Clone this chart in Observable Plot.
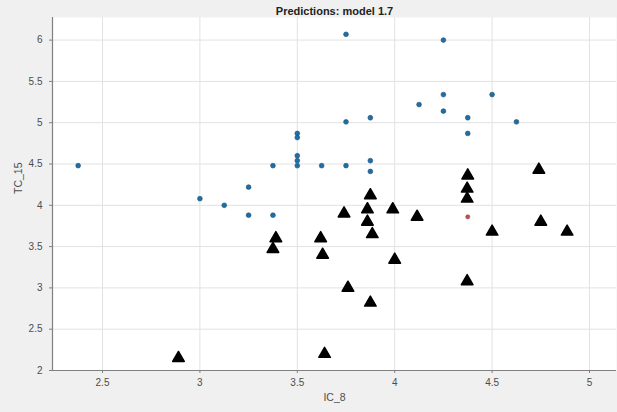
<!DOCTYPE html>
<html>
<head>
<meta charset="utf-8">
<script src="https://cdn.jsdelivr.net/npm/d3@7"></script>
<script src="https://cdn.jsdelivr.net/npm/@observablehq/plot@0.6"></script>
<style>
  html, body { margin: 0; padding: 0; background: #f0f0f0; }
  #chart svg { display: block; }
</style>
</head>
<body>
<div id="chart"></div>
<script>
// Observed data (blue dots)
const obsX = [2.375, 3.0, 3.125, 3.25, 3.25, 3.375, 3.375, 3.5, 3.5, 3.5, 3.5, 3.5, 3.625, 3.75, 3.75, 3.75, 3.875, 3.875, 3.875, 4.125, 4.25, 4.25, 4.25, 4.375, 4.375, 4.5, 4.625];
const obsY = [4.48, 4.08, 4.0, 4.22, 3.88, 4.48, 3.88, 4.87, 4.82, 4.6, 4.54, 4.48, 4.48, 6.07, 5.01, 4.48, 5.06, 4.54, 4.41, 5.22, 6.0, 5.34, 5.14, 5.06, 4.87, 5.34, 5.01];
// Highlighted point (red)
const redX = [4.375];
const redY = [3.86];
// Predictions (black triangles)
const predX = [2.89, 3.375, 3.39, 3.62, 3.63, 3.64, 3.74, 3.76, 3.86, 3.86, 3.875, 3.885, 3.875, 3.99, 4.0, 4.115, 4.375, 4.372, 4.372, 4.372, 4.5, 4.74, 4.75, 4.885];
const predY = [2.15, 3.47, 3.6, 3.6, 3.4, 2.2, 3.9, 3.0, 3.95, 3.8, 4.12, 3.65, 2.82, 3.95, 3.34, 3.86, 4.36, 4.2, 4.08, 3.08, 3.68, 4.43, 3.8, 3.68];

const xTicks = [2.5, 3, 3.5, 4, 4.5, 5];
const yTicks = [2, 2.5, 3, 3.5, 4, 4.5, 5, 5.5, 6];
const title = "Predictions: model 1.7";
const xLabel = "IC_8";
const yLabel = "TC_15";

const obs = obsX.map((x, i) => ({x, y: obsY[i]}));
const red = redX.map((x, i) => ({x, y: redY[i]}));
const pred = predX.map((x, i) => ({x, y: predY[i]}));

const xDomain = [2.2433, 5.1386];
const yDomain = [2, 6.2736];

const chart = Plot.plot({
  width: 617,
  height: 412,
  marginLeft: 52,
  marginRight: 1,
  marginTop: 17,
  marginBottom: 42,
  style: {background: "#f0f0f0", fontFamily: "'Liberation Sans', Arial, sans-serif", fontSize: "10px", color: "#4d4d4d"},
  x: {domain: xDomain, ticks: xTicks, label: null},
  y: {domain: yDomain, ticks: yTicks, label: null},
  marks: [
    Plot.frame({fill: "white", stroke: null}),
    Plot.gridX(xTicks, {stroke: "#e2e2e2", strokeOpacity: 1}),
    Plot.gridY(yTicks, {stroke: "#e2e2e2", strokeOpacity: 1}),
    Plot.ruleX([xDomain[0]], {stroke: "#808080", strokeWidth: 1.2}),
    Plot.ruleY([yDomain[0]], {stroke: "#808080", strokeWidth: 1.2}),
    Plot.axisX(xTicks, {tickSize: 3, tickPadding: 5, stroke: "#808080", fill: "#4d4d4d", tickFormat: d => String(d)}),
    Plot.axisY(yTicks, {tickSize: 3, tickPadding: 7, stroke: "#808080", fill: "#4d4d4d", tickFormat: d => String(d)}),
    Plot.dot(obs, {x: "x", y: "y", r: 2.4, fill: "#1f6fa6", stroke: "#1d4f73", strokeWidth: 0.6}),
    Plot.dot(red, {x: "x", y: "y", r: 2.1, fill: "#c0504d", stroke: "#8a3a36", strokeWidth: 0.5}),
    Plot.dot(pred, {x: "x", y: "y", symbol: "triangle", r: 4.3, fill: "black", stroke: "black", strokeWidth: 1.5, strokeLinejoin: "round"}),
    Plot.text([title], {frameAnchor: "top", dy: -10, fontWeight: "bold", fontSize: 11, fill: "#222"}),
    Plot.text([xLabel], {frameAnchor: "bottom", dy: 30, fontSize: 10.5, fill: "#4d4d4d"}),
    Plot.text([yLabel], {frameAnchor: "left", dx: -34, rotate: -90, fontSize: 10.5, fill: "#4d4d4d"})
  ]
});
document.getElementById("chart").appendChild(chart);
</script>
</body>
</html>
